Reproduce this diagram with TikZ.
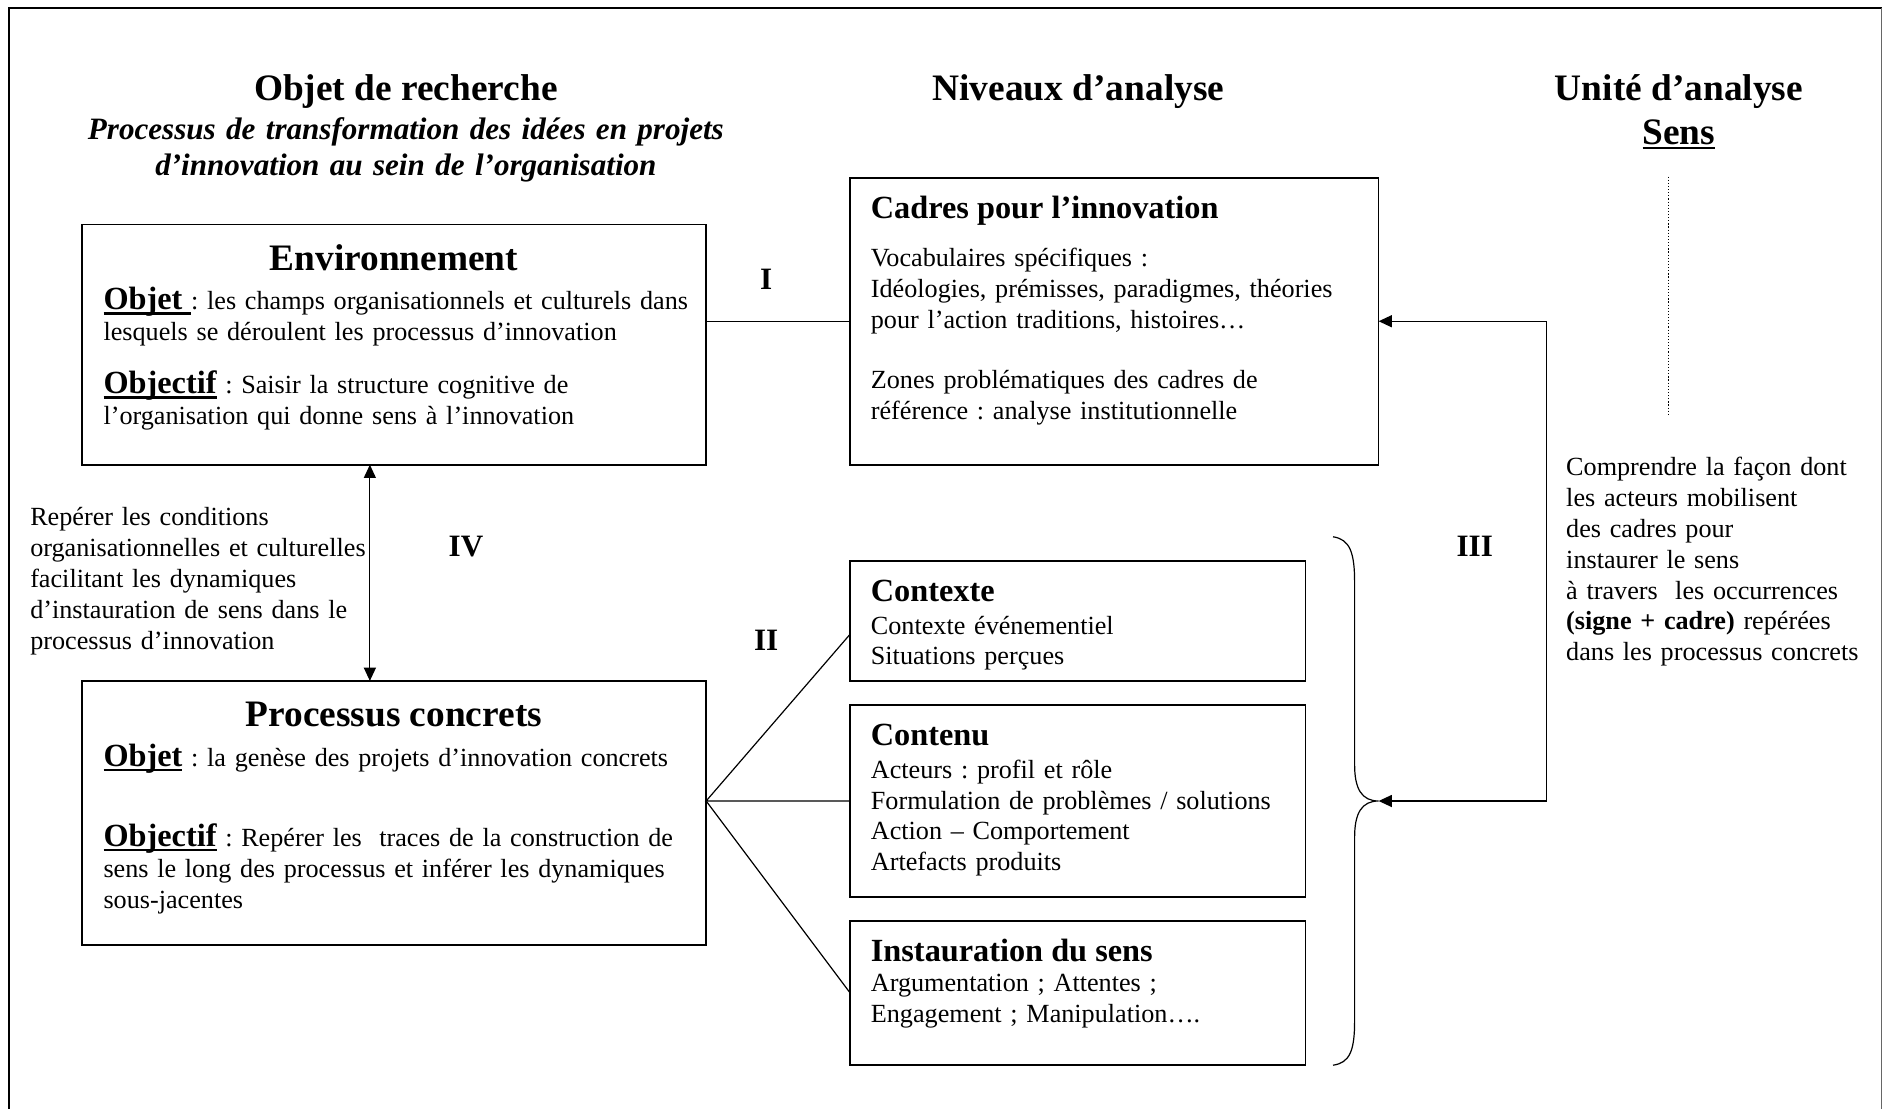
\documentclass[tikz,border=0pt]{standalone}
\usepackage{fontspec}
\setmainfont{Liberation Serif}
\usetikzlibrary{arrows.meta}
\frenchspacing
\newcommand{\bodysize}{\fontsize{21.8}{25.7}\selectfont\frenchspacing}
\newcommand{\headsize}{\fontsize{26.9}{30}\selectfont}
\newcommand{\subsize}{\fontsize{25.9}{30}\selectfont}
\newcommand{\titlesize}{\fontsize{31.1}{35}\selectfont}
\newcommand{\myul}[1]{\setbox0\hbox{#1}\rlap{\rule[-4pt]{\wd0}{2pt}}\box0}
\begin{document}
\begin{tikzpicture}[x=1pt,y=-1pt,
  box/.style={draw, line width=1.4pt, inner sep=0pt, outer sep=0pt, anchor=north west},
  txt/.style={inner sep=0pt, anchor=base west, align=left, text width=520pt, font=\bodysize},
  ctxt/.style={inner sep=0pt, anchor=base, font=\titlesize\bfseries},
  hd/.style={inner sep=0pt, anchor=base west, font=\headsize\bfseries},
  lbl/.style={inner sep=0pt, anchor=base, font=\subsize\bfseries},
  conn/.style={line width=1pt},
  arr/.style={conn, -{Triangle[length=11pt,width=10pt]}},
]
\useasboundingbox (0,0) rectangle (1568,923);
% frame
\draw[line width=1.5pt] (7.5,930) -- (7.5,6.5) -- (1567,6.5);
\draw[line width=1pt, black!60] (1567,6.5) -- (1567,930);
% titles
\node[ctxt] (t1) at (338,84) {Objet de recherche};
\node[inner sep=0pt, anchor=base, font=\subsize\bfseries\itshape, align=center, text width=640pt] (t1s) at (338,116) {Processus de transformation des idées en projets\\d’innovation au sein de l’organisation};
\node[ctxt] (t2) at (898,84) {Niveaux d’analyse};
\node[ctxt] (t3) at (1398,84) {Unité d’analyse};
\node[ctxt] (t3s) at (1398,120) {\myul{Sens}};
% Environnement
\node[box, minimum width=520pt, minimum height=200pt] (env) at (68,187) {};
\node[ctxt] (envh) at (328,225) {Environnement};
\node[txt] (envo) at (86,258) {{\headsize\bfseries\myul{Objet\ }}: les champs organisationnels et culturels dans\\lesquels se déroulent les processus d’innovation};
\node[txt] (envf) at (86,328) {{\headsize\bfseries\myul{Objectif}} : Saisir la structure cognitive de\\l’organisation qui donne sens à l’innovation};
% Cadres
\node[box, minimum width=440pt, minimum height=239pt] (cad) at (708,148) {};
\node[hd] (cadh) at (725,182) {Cadres pour l’innovation};
\node[txt] (cadt) at (725,222) {Vocabulaires spécifiques :\\Idéologies, prémisses, paradigmes, théories\\pour l’action traditions, histoires…\\[24.3pt]Zones problématiques des cadres de\\référence : analyse institutionnelle};
% Processus concrets
\node[box, minimum width=520pt, minimum height=220pt] (pc) at (68,567) {};
\node[ctxt] (pch) at (328,605) {Processus concrets};
\node[txt] (pco) at (86,638) {{\headsize\bfseries\myul{Objet}} : la genèse des projets d’innovation concrets};
\node[txt] (pcf) at (86,705) {{\headsize\bfseries\myul{Objectif}} : Repérer les\ \ traces de la construction de\\sens le long des processus et inférer les dynamiques\\sous-jacentes};
% Contexte
\node[box, minimum width=379pt, minimum height=100pt] (ctx) at (708,467) {};
\node[hd] (ctxh) at (725,501) {Contexte};
\node[txt] (ctxt) at (725,528) {Contexte événementiel\\Situations perçues};
% Contenu
\node[box, minimum width=379pt, minimum height=160pt] (cnt) at (708,587) {};
\node[hd] (cnth) at (725,621) {Contenu};
\node[txt] (cntt) at (725,648) {Acteurs : profil et rôle\\Formulation de problèmes / solutions\\Action – Comportement\\Artefacts produits};
% Instauration
\node[box, minimum width=379pt, minimum height=120pt] (ins) at (708,767) {};
\node[hd] (insh) at (725,801) {Instauration du sens};
\node[txt] (inst) at (725,826) {Argumentation ; Attentes ;\\Engagement ; Manipulation….};
% side texts
\node[txt] (lt) at (25,438) {Repérer les conditions\\organisationnelles et culturelles\\facilitant les dynamiques\\d’instauration de sens dans le\\processus d’innovation};
\node[txt, text width=300pt] (rt) at (1304,396) {Comprendre la façon dont\\les acteurs mobilisent\\des cadres pour\\instaurer le sens\\à travers\ \ les occurrences\\\textbf{(signe + cadre)} repérées\\dans les processus concrets};
% labels
\node[lbl] (l1) at (638,241) {I};
\node[lbl] (l2) at (638,542) {II};
\node[lbl] (l3) at (1228,463) {III};
\node[lbl] (l4) at (388,463) {IV};
% connectors
\draw[conn] (env.east |- cad.west) -- (cad.west);
\draw[conn, {Triangle[length=11pt,width=10pt]}-{Triangle[length=11pt,width=10pt]}] ([xshift=-20pt]env.south) -- ([xshift=-20pt]pc.north);
\coordinate (pcx) at (pc.east |- cnt.west);
\draw[conn] ([yshift=-11pt]ctx.west) -- (pcx) -- (cnt.west);
\draw[conn] (pcx) -- (ins.west);
% brace
\coordinate (btip) at (1148,667);
\coordinate (btop) at (1110,447);
\coordinate (bbot) at (1110,887);
\draw[conn] (btop) .. controls (1124,449) and (1128,460) .. (1128,485) -- (1128,637) .. controls (1128,657) and (1134,667) .. (btip) .. controls (1134,667) and (1128,677) .. (1128,697) -- (1128,850) .. controls (1128,875) and (1124,885) .. (bbot);
\coordinate (rc) at (1288,667);
\draw[arr] (rc) -- (btip);
\draw[arr] (rc) |- (cad.east);
% dotted
\coordinate (dt) at (1389,147);
\coordinate (db) at (1389,346);
\draw[line width=0.9pt, dash pattern=on 1pt off 1.6pt] (dt) -- (db);
\end{tikzpicture}
\end{document}
